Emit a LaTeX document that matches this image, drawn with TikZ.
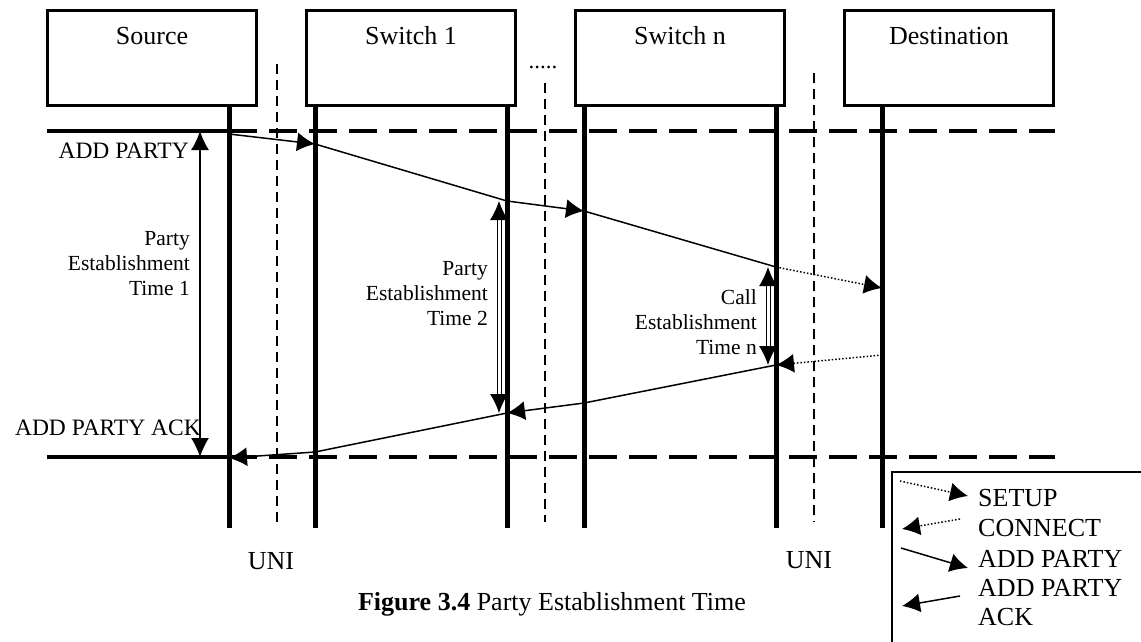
\documentclass[tikz,border=0pt]{standalone}
\usepackage{fontspec}
\setmainfont{Liberation Serif}
\usetikzlibrary{arrows.meta}

\tikzset{
  entity/.style={draw, line width=3pt, minimum width=209pt, minimum height=95pt, inner sep=0pt},
  lifeline/.style={line width=5pt},
  uni/.style={line width=2pt, dash pattern=on 10pt off 6pt},
  phase/.style={line width=4pt, dash pattern=on 28pt off 12pt},
  msg/.style={line width=1.5pt},
  tip/.style={-{Latex[length=18pt,width=19pt]}},
  span/.style={line width=1.3pt, {Latex[length=19pt,width=18pt]}-{Latex[length=19pt,width=18pt]}},
  hollow/.style={double, double distance=3pt, line width=1pt, {Latex[length=19pt,width=18pt]}-{Latex[length=19pt,width=18pt]}},
  big/.style={font=\fontsize{26}{30}\selectfont},
  mid/.style={font=\fontsize{23.5}{27}\selectfont},
  small/.style={font=\fontsize{21.5}{25}\selectfont, align=right, inner sep=0pt},
}

\begin{document}
\begin{tikzpicture}[x=1pt, y=-1pt]
\useasboundingbox (0,0) rectangle (1141,641);

% boxes
\node[entity] (src) at (152,58) {};
\node[entity] (sw1) at (411,58) {};
\node[entity] (swn) at (680,58) {};
\node[entity] (dst) at (949,58) {};
\node[big, anchor=base] (srct) at ([yshift=-35.5pt]src.north) {Source};
\node[big, anchor=base] (sw1t) at ([yshift=-35.5pt]sw1.north) {Switch 1};
\node[big, anchor=base] (swnt) at ([yshift=-35.5pt]swn.north) {Switch n};
\node[big, anchor=base] (dstt) at ([yshift=-35.5pt]dst.north) {Destination};
\node[font=\fontsize{23}{27}\selectfont, inner sep=0pt] (dots) at (543,67) {.....};

% lifelines
\draw[lifeline] (229,105) -- (229,528);
\draw[lifeline] (315,105) -- (315,528);
\draw[lifeline] (507,105) -- (507,528);
\draw[lifeline] (584,105) -- (584,528);
\draw[lifeline] (776,105) -- (776,528);
\draw[lifeline] (882,105) -- (882,528);

% UNI borders
\draw[uni] (277,64) -- (277,522);
\draw[uni] (545,83) -- (545,522);
\draw[uni] (814,73) -- (814,522);

% start / end of the party setup
\draw[line width=4pt] (47,131) -- (229,131);
\draw[phase] (229,131) -- (1055,131);
\draw[line width=4pt] (47,457) -- (229,457);
\draw[phase] (229,457) -- (1055,457);

% message points
\coordinate (a0) at (229,134);
\coordinate (a1) at (315,144);
\coordinate (a2) at (507,201);
\coordinate (a3) at (584,211);
\coordinate (a4) at (776,267);
\coordinate (d1) at (882,288);
\coordinate (d2) at (882,355);
\coordinate (k4) at (776,365);
\coordinate (k3) at (584,403);
\coordinate (k2) at (507,413);
\coordinate (k1) at (315,452);
\coordinate (k0) at (229,458);

% ADD PARTY
\draw[msg, tip] (a0) -- (a1);
\draw[msg] (a1) -- (a2);
\draw[msg, tip] (a2) -- (a3);
\draw[msg] (a3) -- (a4);
% SETUP / CONNECT
\draw[msg, dotted, tip] (a4) -- (d1);
\draw[msg, dotted, tip] (d2) -- (k4);
% ADD PARTY ACK
\draw[msg] (k4) -- (k3);
\draw[msg, tip] (k3) -- (k2);
\draw[msg] (k2) -- (k1);
\draw[msg, tip] (k1) -- (k0);

% times
\draw[span] (200,131) -- (200,457);
\draw[hollow] (499,201) -- (499,413);
\draw[hollow] (768,267) -- (768,365);
\node[small, anchor=east] (t1) at (190,264) {Party\\Establishment\\Time 1};
\node[small, anchor=east] (t2) at (488,294) {Party\\Establishment\\Time 2};
\node[small, anchor=east] (tn) at (757,322) {Call\\Establishment\\Time n};

\node[mid, anchor=east, inner sep=0pt] (ap) at (189,151) {ADD PARTY};
\node[mid, anchor=east, inner sep=0pt] (apa) at (201,428) {ADD PARTY ACK};

\node[big] (uni1) at (271,561) {UNI};
\node[big] (uni2) at (809,560) {UNI};
\node[big] (cap) at (552,604) {\textbf{Figure 3.4} Party Establishment Time};

% legend
\draw[line width=1.5pt] (892,472) rectangle (1160,660);
\coordinate (l1a) at (900,481);  \coordinate (l1b) at (968,496);
\coordinate (l2a) at (960,519);  \coordinate (l2b) at (902,529);
\coordinate (l3a) at (901,548);  \coordinate (l3b) at (968,568);
\coordinate (l4a) at (960,596);  \coordinate (l4b) at (902,606);
\draw[msg, dotted, tip] (l1a) -- (l1b);
\draw[msg, dotted, tip] (l2a) -- (l2b);
\draw[msg, tip] (l3a) -- (l3b);
\draw[msg, tip] (l4a) -- (l4b);
\node[big, anchor=west, inner sep=0pt] (lsetup) at (978,498) {SETUP};
\node[big, anchor=west, inner sep=0pt] (lconn) at (978,528) {CONNECT};
\node[big, anchor=west, inner sep=0pt] (ladd) at (978,559) {ADD PARTY};
\node[big, anchor=west, inner sep=0pt, align=left] (lack) at (978,603) {ADD PARTY\\[-1pt]ACK};
\end{tikzpicture}
\end{document}
